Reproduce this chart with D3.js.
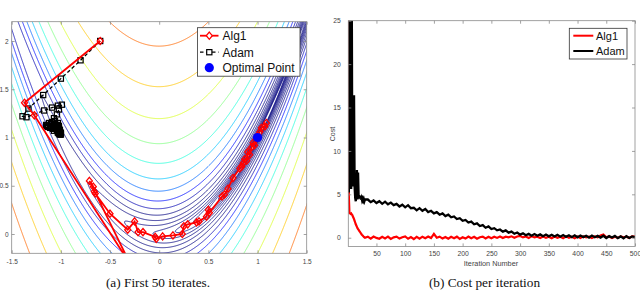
<!DOCTYPE html>
<html>
<head>
<meta charset="utf-8">
<script src="https://cdn.jsdelivr.net/npm/d3@7/dist/d3.min.js"></script>
<style>
  body { margin: 0; background: #fff; }
  svg { display: block; font-family: "Liberation Sans", Arial, sans-serif; }
  .tick text { fill: #444; }
  .tick line { stroke: #8a8a8a; stroke-width: 0.8; }
  .caption { font-family: "Liberation Serif", "Times New Roman", serif; }
</style>
</head>
<body>
<svg id="chart" width="640" height="292"></svg>
<script>
// ---- panel (a): first 50 iterates on the Rosenbrock surface ----
var alg1Path = [
  [-0.6, 2.0], [-1.37, 1.36], [-1.27, 1.23], [-0.29, -0.32], [-0.71, 0.55],
  [-0.67, 0.49], [-0.66, 0.44], [-0.65, 0.42], [-0.5, 0.21], [-0.32, 0.045],
  [-0.25, 0.13], [-0.215, 0.02], [-0.165, 0.02], [-0.04, -0.03], [-0.03, -0.05],
  [0.035, -0.025], [0.14, -0.015], [0.235, 0.0], [0.25, 0.08], [0.29, 0.1],
  [0.38, 0.12], [0.405, 0.13], [0.48, 0.18], [0.5, 0.25], [0.51, 0.22],
  [0.64, 0.39], [0.665, 0.41], [0.7, 0.47], [0.75, 0.58], [0.82, 0.68],
  [0.84, 0.7], [0.855, 0.735], [0.87, 0.775], [0.89, 0.76], [0.9, 0.85],
  [0.92, 0.82], [0.94, 0.9], [0.955, 0.945], [0.97, 0.92], [0.99, 0.99],
  [1.0, 1.02], [1.025, 1.06], [1.04, 1.1], [1.075, 1.115], [1.09, 1.15]
];
var adamPath = [
  [-0.6, 2.0], [-0.8, 1.8], [-1.0, 1.61], [-1.18, 1.44], [-1.33, 1.3],
  [-1.39, 1.22], [-1.35, 1.21], [-1.17, 1.28], [-1.09, 1.31], [-1.03, 1.33],
  [-0.99, 1.34], [-1.02, 1.29], [-1.04, 1.24], [-1.07, 1.2], [-1.12, 1.15],
  [-1.15, 1.13], [-1.13, 1.11], [-1.1, 1.14], [-1.08, 1.12], [-1.11, 1.1],
  [-1.14, 1.12], [-1.09, 1.16], [-1.06, 1.14], [-1.07, 1.11], [-1.1, 1.12],
  [-1.05, 1.1], [-1.08, 1.09], [-1.04, 1.13], [-1.06, 1.17], [-1.03, 1.15],
  [-1.05, 1.12], [-1.02, 1.1], [-1.04, 1.08], [-1.07, 1.07], [-1.03, 1.06],
  [-1.01, 1.08], [-1.02, 1.04], [-1.0, 1.05], [-1.01, 1.03], [-1.03, 1.05],
  [-1.05, 1.09], [-1.04, 1.11], [-1.06, 1.1], [-1.02, 1.12], [-1.03, 1.09],
  [-1.01, 1.06], [-1.02, 1.07], [-1.0, 1.04], [-1.01, 1.05], [-1.0, 1.03]
];
var optimalPoint = [1, 1];
var contourLevels = [0.1, 0.16, 0.26, 0.43, 0.7, 1.13, 1.83, 2.98, 4.83, 7.85,
  12.7, 20.7, 33.6, 54.6, 88.6, 144, 234, 380, 616, 1000];
var xTicksA = [-1.5, -1, -0.5, 0, 0.5, 1, 1.5];
var yTicksA = [0, 0.5, 1, 1.5, 2];

// ---- panel (b): cost per iteration ----
var iterations = [1, 2, 3, 4, 5, 6, 7, 8, 9, 10, 11, 12, 13, 14, 15, 16, 17, 18, 19, 20,
  21, 22, 23, 24, 25, 26, 27, 28, 29, 30,
  35, 40, 45, 50, 55, 60, 65, 70, 75, 80, 85, 90, 95, 100, 105, 110, 115, 120, 125, 130,
  135, 140, 145, 150, 155, 160, 165, 170, 175, 180, 185, 190, 195, 200, 205, 210, 215, 220, 225, 230,
  235, 240, 245, 250, 255, 260, 265, 270, 275, 280, 285, 290, 295, 300, 305, 310, 315, 320, 325, 330,
  335, 340, 345, 350, 355, 360, 365, 370, 375, 380, 385, 390, 395, 400, 405, 410, 415, 420, 425, 430,
  435, 440, 445, 450, 455, 460, 465, 470, 475, 480, 485, 490, 495, 500];
var alg1Cost = [30, 4.7, 2.85, 2.8, 2.75, 2.8, 2.7, 2.6, 2.45, 2.3,
  2.15, 1.95, 1.75, 1.55, 1.4, 1.25, 1.1, 1.0, 0.9, 0.8,
  0.7, 0.6, 0.5, 0.4, 0.32, 0.25, 0.18, 0.1, 0.05, 0.0,
  0.12, -0.1, 0.14, -0.02, -0.12, 0.1, -0.08, 0.12, -0.14, 0.04,
  0.12, -0.1, 0.06, 0.14, -0.12, 0.08, -0.16, 0.1, -0.12, 0.12,
  -0.06, 0.14, -0.04, 0.45, 0.0, 0.12, -0.1, 0.08, -0.12, 0.1,
  -0.06, 0.12, -0.14, 0.06, -0.1, 0.14, -0.06, 0.1, -0.12, 0.06,
  0.12, -0.08, 0.1, -0.06, 0.12, -0.02, 0.14, -0.04, 0.12, 0.04,
  0.16, 0.0, 0.14, 0.2, 0.04, 0.14, -0.02, 0.16, 0.04, 0.12,
  -0.04, 0.14, -0.02, 0.12, -0.06, 0.14, 0.0, 0.12, -0.06, 0.16,
  0.0, 0.12, -0.06, 0.14, -0.02, 0.16, 0.04, 0.12, -0.04, 0.14,
  0.04, 0.25, 0.38, 0.04, 0.14, -0.04, 0.12, -0.02, 0.16, 0.04,
  0.12, -0.04, 0.16, 0.12];
var adamCost = [80, 5.2, 60, 6.0, 40, 5.6, 30, 5.9, 16.3, 6.0,
  16.4, 5.8, 4.6, 4.2, 5.0, 7.8, 4.4, 7.5, 4.7, 4.9,
  4.5, 4.8, 4.4, 4.6, 4.3, 4.5, 4.25, 4.45, 4.2, 4.4,
  4.4, 4.1, 4.3, 4.0, 4.2, 3.9, 4.15, 3.85, 4.05, 3.75,
  3.9, 3.6, 3.8, 3.5, 3.75, 3.4, 3.45, 3.15, 3.4, 3.1,
  3.3, 2.95, 3.1, 2.8, 2.95, 2.65, 2.8, 2.5, 2.65, 2.35,
  2.45, 2.15, 2.25, 1.95, 2.05, 1.75, 1.85, 1.55, 1.65, 1.35,
  1.45, 1.15, 1.3, 1.0, 1.1, 0.85, 0.95, 0.7, 0.85, 0.58,
  0.7, 0.46, 0.6, 0.36, 0.5, 0.28, 0.44, 0.24, 0.42, 0.22,
  0.38, 0.18, 0.36, 0.16, 0.34, 0.14, 0.33, 0.12, 0.31, 0.1,
  0.28, 0.07, 0.28, 0.05, 0.25, 0.07, 0.23, 0.02, 0.25, 0.05,
  0.21, 0.02, 0.23, -0.03, 0.18, 0.02, 0.21, -0.05, 0.15, -0.07,
  0.18, -0.03, 0.15, 0.05];
var xTicksB = [50, 100, 150, 200, 250, 300, 350, 400, 450, 500];
var yTicksB = [0, 5, 10, 15, 20, 25];

var svg = d3.select("#chart");
var fmt = function(d) { return String(d); };

function rosenbrock(x, y) {
  return (1 - x) * (1 - x) + 100 * (y - x * x) * (y - x * x);
}

// MATLAB jet colormap
function jet(t) {
  var c = function(v) { return Math.round(255 * Math.max(0, Math.min(1, v))); };
  return "rgb(" + c(1.5 - Math.abs(4 * t - 3)) + "," + c(1.5 - Math.abs(4 * t - 2)) + "," + c(1.5 - Math.abs(4 * t - 1)) + ")";
}

// box with inward ticks on all four sides
function frame(x, y, xTicks, yTicks, fontSize, xPad, yPad) {
  var x0 = x.range()[0], x1 = x.range()[1], y0 = y.range()[1], y1 = y.range()[0];
  var g = svg.append("g");
  g.append("g").attr("transform", "translate(0," + y1 + ")")
    .call(d3.axisBottom(x).tickValues(xTicks).tickSize(-3).tickPadding(xPad).tickFormat(fmt))
    .attr("font-size", fontSize).attr("font-family", null)
    .call(function(s) { s.select(".domain").remove(); });
  g.append("g").attr("transform", "translate(0," + y0 + ")")
    .call(d3.axisTop(x).tickValues(xTicks).tickSize(-3).tickFormat(""))
    .call(function(s) { s.select(".domain").remove(); });
  g.append("g").attr("transform", "translate(" + x0 + ",0)")
    .call(d3.axisLeft(y).tickValues(yTicks).tickSize(-3).tickPadding(yPad).tickFormat(fmt))
    .attr("font-size", fontSize).attr("font-family", null)
    .call(function(s) { s.select(".domain").remove(); });
  g.append("g").attr("transform", "translate(" + x1 + ",0)")
    .call(d3.axisRight(y).tickValues(yTicks).tickSize(-3).tickFormat(""))
    .call(function(s) { s.select(".domain").remove(); });
  g.append("rect")
    .attr("x", x0).attr("y", y0).attr("width", x1 - x0).attr("height", y1 - y0)
    .attr("fill", "none").attr("stroke", "#8a8a8a").attr("stroke-width", 0.8);
}

function clip(id, x, y) {
  svg.append("clipPath").attr("id", id).append("rect")
    .attr("x", x.range()[0]).attr("y", y.range()[1])
    .attr("width", x.range()[1] - x.range()[0]).attr("height", y.range()[0] - y.range()[1]);
}

// ================= panel (a) =================
var xA = d3.scaleLinear().domain([-1.5, 1.5]).range([11.7, 306.7]);
var yA = d3.scaleLinear().domain([-0.2, 2.2]).range([253.3, 21.7]);
clip("clipA", xA, yA);

var gx0 = -1.7, gy0 = -0.45, step = 0.006, nx = 568, ny = 485;
var grid = new Float64Array(nx * ny);
for (var j = 0; j < ny; j++) {
  for (var i = 0; i < nx; i++) {
    grid[j * nx + i] = rosenbrock(gx0 + i * step, gy0 + j * step);
  }
}
var contours = d3.contours().size([nx, ny]).thresholds(contourLevels)(grid);
var gridProj = d3.geoTransform({
  point: function(px, py) {
    this.stream.point(xA(gx0 + (px - 0.5) * step), yA(gy0 + (py - 0.5) * step));
  }
});
var levelT = d3.scaleLog().domain([6, 1000]).range([0, 0.95]).clamp(true);

var plotA = svg.append("g").attr("clip-path", "url(#clipA)");
plotA.selectAll("path.contour")
  .data(contours)
  .enter().append("path")
  .attr("class", "contour")
  .attr("d", d3.geoPath(gridProj))
  .attr("fill", "none")
  .attr("stroke", function(d) { return jet(levelT(d.value)); })
  .attr("stroke-width", 0.8);

var lineA = d3.line().x(function(d) { return xA(d[0]); }).y(function(d) { return yA(d[1]); });
var diamond = "M0,-3.6L3,0L0,3.6L-3,0Z";

plotA.append("path").datum(adamPath).attr("d", lineA)
  .attr("fill", "none").attr("stroke", "#000").attr("stroke-width", 1.3)
  .attr("stroke-dasharray", "3.5,2.5");
plotA.selectAll("rect.adam").data(adamPath).enter().append("rect")
  .attr("class", "adam")
  .attr("x", function(d) { return xA(d[0]) - 2.6; })
  .attr("y", function(d) { return yA(d[1]) - 2.6; })
  .attr("width", 5.2).attr("height", 5.2)
  .attr("fill", "none").attr("stroke", "#000").attr("stroke-width", 1.2);

plotA.append("path").datum(alg1Path).attr("d", lineA)
  .attr("fill", "none").attr("stroke", "#ff0000").attr("stroke-width", 1.8);
plotA.selectAll("path.alg1").data(alg1Path).enter().append("path")
  .attr("class", "alg1")
  .attr("d", diamond)
  .attr("transform", function(d) { return "translate(" + xA(d[0]) + "," + yA(d[1]) + ")"; })
  .attr("fill", "none").attr("stroke", "#ff0000").attr("stroke-width", 1.3);

plotA.append("circle")
  .attr("cx", xA(optimalPoint[0])).attr("cy", yA(optimalPoint[1])).attr("r", 4.6)
  .attr("fill", "#0000ff");

frame(xA, yA, xTicksA, yTicksA, 6.5, 6.2, 3.2);

// legend (a)
var legA = svg.append("g");
legA.append("rect").attr("x", 197.5).attr("y", 27.7).attr("width", 102.5).attr("height", 48.5)
  .attr("fill", "#fff").attr("stroke", "#333").attr("stroke-width", 0.8);
legA.append("line").attr("x1", 200).attr("x2", 218.5).attr("y1", 35.7).attr("y2", 35.7)
  .attr("stroke", "#ff0000").attr("stroke-width", 1.8);
legA.append("path").attr("d", diamond).attr("transform", "translate(209.3,35.7)")
  .attr("fill", "#fff").attr("stroke", "#ff0000").attr("stroke-width", 1.3);
legA.append("line").attr("x1", 200).attr("x2", 218.5).attr("y1", 52.2).attr("y2", 52.2)
  .attr("stroke", "#000").attr("stroke-width", 1.3).attr("stroke-dasharray", "3.5,2.5");
legA.append("rect").attr("x", 206.7).attr("y", 49.6).attr("width", 5.2).attr("height", 5.2)
  .attr("fill", "#fff").attr("stroke", "#000").attr("stroke-width", 1.2);
legA.append("circle").attr("cx", 209.3).attr("cy", 67.7).attr("r", 4.6).attr("fill", "#0000ff");
legA.selectAll("text").data(["Alg1", "Adam", "Optimal Point"]).enter().append("text")
  .attr("x", 222.5)
  .attr("y", function(d, i) { return [35.7, 52.2, 67.7][i]; })
  .attr("dy", "0.36em")
  .attr("font-size", 12).attr("fill", "#111")
  .text(function(d) { return d; });

svg.append("text").attr("class", "caption").attr("x", 158).attr("y", 287)
  .attr("text-anchor", "middle")
  .attr("font-size", 13.3).attr("fill", "#111")
  .text("(a) First 50 iterates.");

// ================= panel (b) =================
var xB = d3.scaleLinear().domain([1, 500]).range([348.3, 635]);
var yB = d3.scaleLinear().domain([-1, 25]).range([246.4, 20.7]);
clip("clipB", xB, yB);

var plotB = svg.append("g").attr("clip-path", "url(#clipB)");
function costLine(values) {
  return d3.line()
    .x(function(d, i) { return xB(iterations[i]); })
    .y(function(d) { return yB(d); })(values);
}
plotB.append("path").attr("d", costLine(alg1Cost))
  .attr("fill", "none").attr("stroke", "#ff0000").attr("stroke-width", 2.2);
plotB.append("path").attr("d", costLine(adamCost))
  .attr("fill", "none").attr("stroke", "#000").attr("stroke-width", 2.3);

frame(xB, yB, xTicksB, yTicksB, 6.8, 4.5, 7.5);

svg.append("text").attr("x", 491).attr("y", 263.3).attr("dy", "0.36em")
  .attr("text-anchor", "middle").attr("font-size", 7.3).attr("fill", "#444")
  .text("Iteration Number");
svg.append("text").attr("transform", "translate(332,134) rotate(-90)").attr("dy", "0.36em")
  .attr("text-anchor", "middle").attr("font-size", 7).attr("fill", "#444")
  .text("Cost");

// legend (b)
var legB = svg.append("g");
legB.append("rect").attr("x", 569.3).attr("y", 28.3).attr("width", 57.7).attr("height", 30.7)
  .attr("fill", "#fff").attr("stroke", "#333").attr("stroke-width", 0.8);
legB.selectAll("line").data(["#ff0000", "#000"]).enter().append("line")
  .attr("x1", 573.3).attr("x2", 593.3)
  .attr("y1", function(d, i) { return [35.7, 51][i]; })
  .attr("y2", function(d, i) { return [35.7, 51][i]; })
  .attr("stroke", function(d) { return d; }).attr("stroke-width", 2);
legB.selectAll("text").data(["Alg1", "Adam"]).enter().append("text")
  .attr("x", 596)
  .attr("y", function(d, i) { return [35.7, 51][i]; })
  .attr("dy", "0.36em")
  .attr("font-size", 11).attr("fill", "#111")
  .text(function(d) { return d; });

svg.append("text").attr("class", "caption").attr("x", 484.5).attr("y", 287)
  .attr("text-anchor", "middle")
  .attr("font-size", 13.3).attr("fill", "#111")
  .text("(b) Cost per iteration");
</script>
</body>
</html>
